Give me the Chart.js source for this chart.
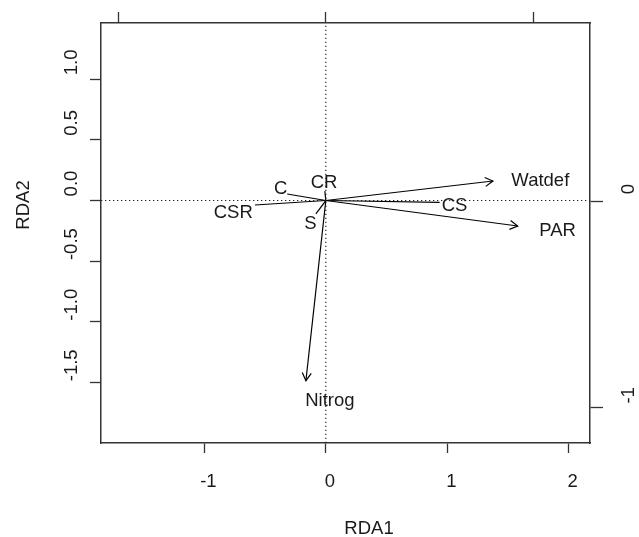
<!DOCTYPE html>
<html>
<head>
<meta charset="utf-8">
<script src="https://cdn.jsdelivr.net/npm/chart.js@4/dist/chart.umd.min.js"></script>
<style>
  body { margin: 0; background: #fff; }
  canvas { display: block; }
</style>
</head>
<body>
<canvas id="rdaChart" width="639" height="537"></canvas>
<script>
// Environmental vectors (arrows) - tip and label positions in RDA1/RDA2 units
const VECTOR_NAMES = ['Watdef', 'PAR', 'Nitrog'];
const VECTOR_X = [1.376, 1.58, -0.164];
const VECTOR_Y = [0.161, -0.21, -1.487];
const VECTOR_LABEL_X = [1.766, 1.908, 0.033];
const VECTOR_LABEL_Y = [0.161, -0.252, -1.653];

// Strategy scores (plain segments, no head)
const STRATEGY_NAMES = ['C', 'CR', 'CSR', 'S', 'CS'];
const STRATEGY_X = [-0.318, -0.008, -0.583, -0.082, 0.937];
const STRATEGY_Y = [0.054, 0.078, -0.037, -0.111, -0.015];
const STRATEGY_LABEL_X = [-0.372, -0.015, -0.762, -0.127, 1.06];
const STRATEGY_LABEL_Y = [0.095, 0.142, -0.103, -0.196, -0.045];

// Axis ranges and ticks
const X_RANGE = [-1.851, 2.175];
const Y_RANGE = [-2.001, 1.465];
const X_TICKS = [-1, 0, 1, 2];
const X_TICK_LABELS = ['-1', '0', '1', '2'];
const Y_TICKS = [-1.5, -1, -0.5, 0, 0.5, 1];
const Y_TICK_LABELS = ['-1.5', '-1.0', '-0.5', '0.0', '0.5', '1.0'];
const TOP_RANGE = [-1.083, 1.271];
const TOP_TICKS = [-1, 0, 1];
const RIGHT_RANGE = [-1.173, 0.863];
const RIGHT_TICKS = [-1, 0];
const RIGHT_TICK_LABELS = ['-1', '0'];

const FONT = '18.5px "Liberation Sans", Arial, sans-serif';
const INK = '#1a1a1a';
const AXIS_INK = '#333';

const datasets = [];

// dotted reference lines through the origin
datasets.push({
    data: [{x: X_RANGE[0], y: 0}, {x: X_RANGE[1], y: 0}],
    borderColor: '#222', borderWidth: 1.2, borderDash: [1.3, 2.7]
});
datasets.push({
    data: [{x: 0, y: Y_RANGE[0]}, {x: 0, y: Y_RANGE[1]}],
    borderColor: '#222', borderWidth: 1.2, borderDash: [1.3, 2.7]
});

STRATEGY_NAMES.forEach((name, i) => {
    datasets.push({
        label: name,
        data: [{x: 0, y: 0}, {x: STRATEGY_X[i], y: STRATEGY_Y[i]}],
        borderColor: '#000', borderWidth: 1.2
    });
});

VECTOR_NAMES.forEach((name, i) => {
    datasets.push({
        label: name,
        arrow: true,
        data: [{x: 0, y: 0}, {x: VECTOR_X[i], y: VECTOR_Y[i]}],
        borderColor: '#000', borderWidth: 1.2
    });
});

function fixedTicks(values) {
    return scale => { scale.ticks = values.map(v => ({value: v})); };
}

// Arrow heads, point labels, tick labels and axis titles
const annotate = {
    id: 'annotate',
    afterDatasetsDraw(chart) {
        const ctx = chart.ctx;
        const sx = chart.scales.x, sy = chart.scales.y;
        const sr = chart.scales.y2;
        ctx.save();

        // open arrow heads on the environmental vectors
        ctx.strokeStyle = '#000';
        ctx.lineWidth = 1.2;
        chart.data.datasets.forEach((ds, i) => {
            if (!ds.arrow) return;
            const pts = chart.getDatasetMeta(i).data;
            const a = pts[0], b = pts[1];
            const ang = Math.atan2(b.y - a.y, b.x - a.x);
            const len = 9, spread = Math.PI / 6;
            ctx.beginPath();
            ctx.moveTo(b.x - len * Math.cos(ang - spread), b.y - len * Math.sin(ang - spread));
            ctx.lineTo(b.x, b.y);
            ctx.lineTo(b.x - len * Math.cos(ang + spread), b.y - len * Math.sin(ang + spread));
            ctx.stroke();
        });

        ctx.fillStyle = INK;
        ctx.font = FONT;
        ctx.textAlign = 'center';
        ctx.textBaseline = 'middle';

        VECTOR_NAMES.forEach((name, i) => {
            ctx.fillText(name, sx.getPixelForValue(VECTOR_LABEL_X[i]), sy.getPixelForValue(VECTOR_LABEL_Y[i]));
        });
        STRATEGY_NAMES.forEach((name, i) => {
            ctx.fillText(name, sx.getPixelForValue(STRATEGY_LABEL_X[i]), sy.getPixelForValue(STRATEGY_LABEL_Y[i]));
        });

        // bottom tick labels
        X_TICKS.forEach((v, i) => {
            ctx.fillText(X_TICK_LABELS[i], sx.getPixelForValue(v) + 4, 482);
        });
        ctx.fillText('RDA1', 369, 529);

        // rotated labels on the left and right
        const rotated = (text, x, y) => {
            ctx.save();
            ctx.translate(x, y);
            ctx.rotate(-Math.PI / 2);
            ctx.fillText(text, 0, 0);
            ctx.restore();
        };
        Y_TICKS.forEach((v, i) => rotated(Y_TICK_LABELS[i], 72, sy.getPixelForValue(v) - 17));
        RIGHT_TICKS.forEach((v, i) => rotated(RIGHT_TICK_LABELS[i], 629, sr.getPixelForValue(v) - 12));
        rotated('RDA2', 24, 205);

        ctx.restore();
    }
};

const axisStyle = (len) => ({
    grid: { drawOnChartArea: false, drawTicks: true, tickLength: len, tickColor: AXIS_INK, tickWidth: 1.3 },
    border: { display: true, color: AXIS_INK, width: 1.5 },
    ticks: { display: false }
});

new Chart(document.getElementById('rdaChart'), {
    type: 'scatter',
    data: { datasets: datasets },
    plugins: [annotate],
    options: {
        responsive: false,
        animation: false,
        showLine: true,
        elements: { point: { radius: 0, hoverRadius: 0 }, line: { tension: 0 } },
        layout: { padding: 0 },
        plugins: { legend: { display: false }, tooltip: { enabled: false } },
        scales: {
            x: Object.assign(axisStyle(10), {
                type: 'linear', position: 'bottom', min: X_RANGE[0], max: X_RANGE[1],
                afterBuildTicks: fixedTicks(X_TICKS),
                afterFit: s => { s.height = 94; }
            }),
            y: Object.assign(axisStyle(11), {
                type: 'linear', position: 'left', min: Y_RANGE[0], max: Y_RANGE[1],
                afterBuildTicks: fixedTicks(Y_TICKS),
                afterFit: s => { s.width = 101; }
            }),
            x2: Object.assign(axisStyle(11), {
                type: 'linear', position: 'top', min: TOP_RANGE[0], max: TOP_RANGE[1],
                afterBuildTicks: fixedTicks(TOP_TICKS),
                afterFit: s => { s.height = 23; }
            }),
            y2: Object.assign(axisStyle(13), {
                type: 'linear', position: 'right', min: RIGHT_RANGE[0], max: RIGHT_RANGE[1],
                afterBuildTicks: fixedTicks(RIGHT_TICKS),
                afterFit: s => { s.width = 49; }
            })
        }
    }
});
</script>
</body>
</html>
